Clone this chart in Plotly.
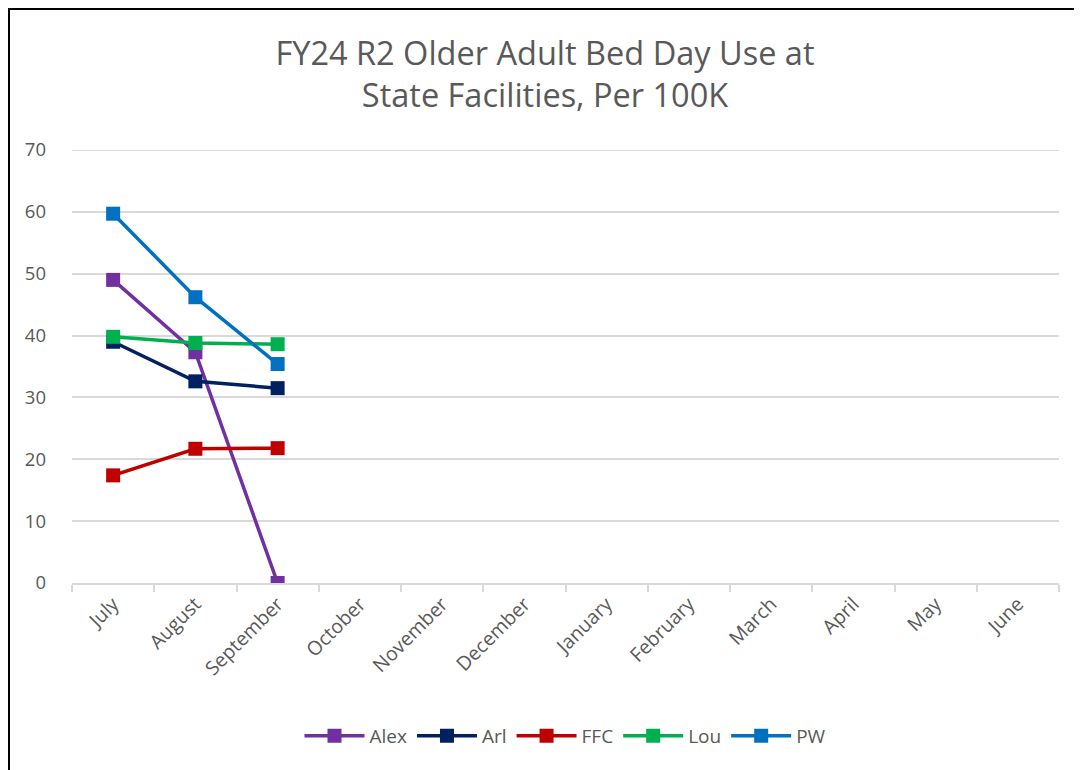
import plotly.graph_objects as go

months = ["July", "August", "September", "October", "November", "December",
          "January", "February", "March", "April", "May", "June"]
alex = [49.0, 37.3, 0.0]
arl = [39.0, 32.6, 31.5]
ffc = [17.4, 21.7, 21.8]
lou = [39.8, 38.8, 38.6]
pw = [59.7, 46.2, 35.4]

series = [("Alex", alex, "#7030A0"), ("Arl", arl, "#002060"), ("FFC", ffc, "#C00000"),
          ("Lou", lou, "#00B050"), ("PW", pw, "#0070C0")]

FONT = "Open Sans"
TXT = "#595959"
GRID = "#D9D9D9"

W, H = 1074, 762
L, R, T, B = 64, 23, 142, 187
PW_ = W - L - R
PH_ = H - T - B

fig = go.Figure()
for name, vals, col in series:
    fig.add_trace(go.Scatter(x=months[:len(vals)], y=vals, name=name, mode="lines+markers",
                             line=dict(color=col, width=3.5),
                             marker=dict(symbol="square", size=14, color=col)))

fig.update_layout(
    width=W, height=H,
    margin=dict(l=L, r=R, t=T, b=B),
    paper_bgcolor="white", plot_bgcolor="white",
    font=dict(family=FONT, color=TXT),
    title=dict(text="FY24 R2 Older Adult Bed Day Use at<br>State Facilities, Per 100K",
               x=0.5, xanchor="center", y=1 - 57 / H, yanchor="middle",
               font=dict(size=32.5, color=TXT, family=FONT)),
    xaxis=dict(categoryorder="array", categoryarray=months, range=[-0.5, 11.5],
               tickvals=months, showgrid=False, showline=True, linecolor=GRID, linewidth=2,
               ticks="outside", tickson="boundaries", ticklen=7, tickcolor=GRID, tickwidth=2,
               tickangle=-45, tickfont=dict(size=19.5, color=TXT), fixedrange=True),
    yaxis=dict(range=[0, 70], dtick=10, showgrid=True, gridcolor=GRID, gridwidth=2,
               zeroline=False, showline=False, tickfont=dict(size=18.5, color=TXT),
               ticks="", ticklabelstandoff=25),
    legend=dict(orientation="h", x=0.5, xanchor="center", y=-0.353, yanchor="middle",
                font=dict(size=19, color=TXT), traceorder="normal", itemwidth=60),
    shapes=[
        dict(type="line", xref="paper", yref="y", x0=0, x1=1, y0=70, y1=70,
             line=dict(color=GRID, width=2), layer="below"),
        dict(type="rect", xref="paper", yref="paper",
             x0=(1 - L) / PW_, x1=(1073 - L) / PW_,
             y0=-0.6, y1=(PH_ + T - 1) / PH_,
             line=dict(color="#000000", width=2), fillcolor="rgba(0,0,0,0)", layer="above"),
    ],
)

fig.write_html("out.html")
